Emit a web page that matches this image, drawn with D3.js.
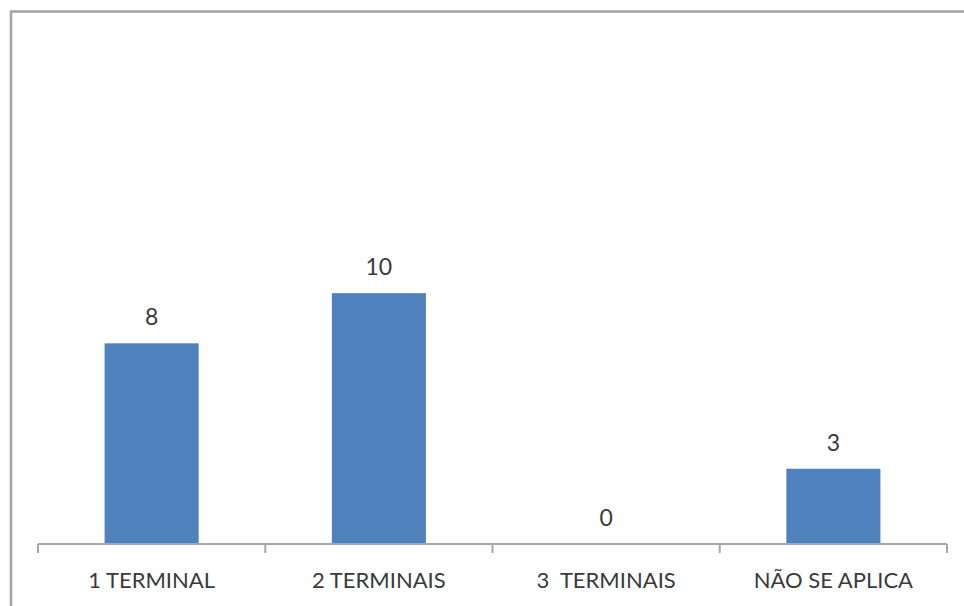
<!DOCTYPE html>
<html>
<head>
<meta charset="utf-8">
<script src="https://cdn.jsdelivr.net/npm/d3@7"></script>
<style>
  html, body { margin: 0; padding: 0; background: #fff; }
  svg { display: block; }
</style>
</head>
<body>
<svg id="chart" width="964" height="606"></svg>
<script>
const categories = ["1 TERMINAL", "2 TERMINAIS", "3\u00a0 TERMINAIS", "NÃO SE APLICA"];
const values = [8, 10, 0, 3];
const yDomain = [0, 12];

const svg = d3.select("#chart");
const W = 964, H = 606;

// outer frame
svg.append("rect")
  .attr("x", 11).attr("y", 11.5)
  .attr("width", W).attr("height", H)
  .attr("fill", "none")
  .attr("stroke", "#a3a3a3")
  .attr("stroke-width", 2.5);

const x = d3.scaleBand().domain(categories).range([38, 947]).padding(0);
const y = d3.scaleLinear().domain(yDomain).range([544, 243]);
const barFrac = 0.414;

// bars
svg.append("g").selectAll("rect")
  .data(values)
  .join("rect")
  .attr("x", (d, i) => x(categories[i]) + x.bandwidth() * (1 - barFrac) / 2)
  .attr("y", d => y(d))
  .attr("width", x.bandwidth() * barFrac)
  .attr("height", d => y(0) - y(d))
  .attr("fill", "#4f81bd");

// axis line + ticks
const axisG = svg.append("g").attr("transform", `translate(0,${y(0)})`);
axisG.append("line")
  .attr("x1", x.range()[0]).attr("x2", x.range()[1])
  .attr("y1", 0).attr("y2", 0)
  .attr("stroke", "#a6a6a6").attr("stroke-width", 2);
const tickPos = categories.map(c => x(c)).concat([x.range()[1]]);
axisG.selectAll("line.tick")
  .data(tickPos)
  .join("line")
  .attr("class", "tick")
  .attr("x1", d => d).attr("x2", d => d)
  .attr("y1", 0).attr("y2", 9)
  .attr("stroke", "#a6a6a6").attr("stroke-width", 2);

// category labels
svg.append("g").selectAll("text")
  .data(categories)
  .join("text")
  .attr("x", d => x(d) + x.bandwidth() / 2)
  .attr("y", 588)
  .attr("text-anchor", "middle")
  .attr("font-family", "Lato, 'Open Sans', sans-serif")
  .attr("font-size", 22)
  .attr("fill", "#3a3a3a")
  .text(d => d);

// value labels
svg.append("g").selectAll("text")
  .data(values)
  .join("text")
  .attr("x", (d, i) => x(categories[i]) + x.bandwidth() / 2)
  .attr("y", d => y(d) - 18)
  .attr("text-anchor", "middle")
  .attr("font-family", "Lato, 'Open Sans', sans-serif")
  .attr("font-size", 23)
  .attr("fill", "#3a3a3a")
  .text(d => d);
</script>
</body>
</html>
